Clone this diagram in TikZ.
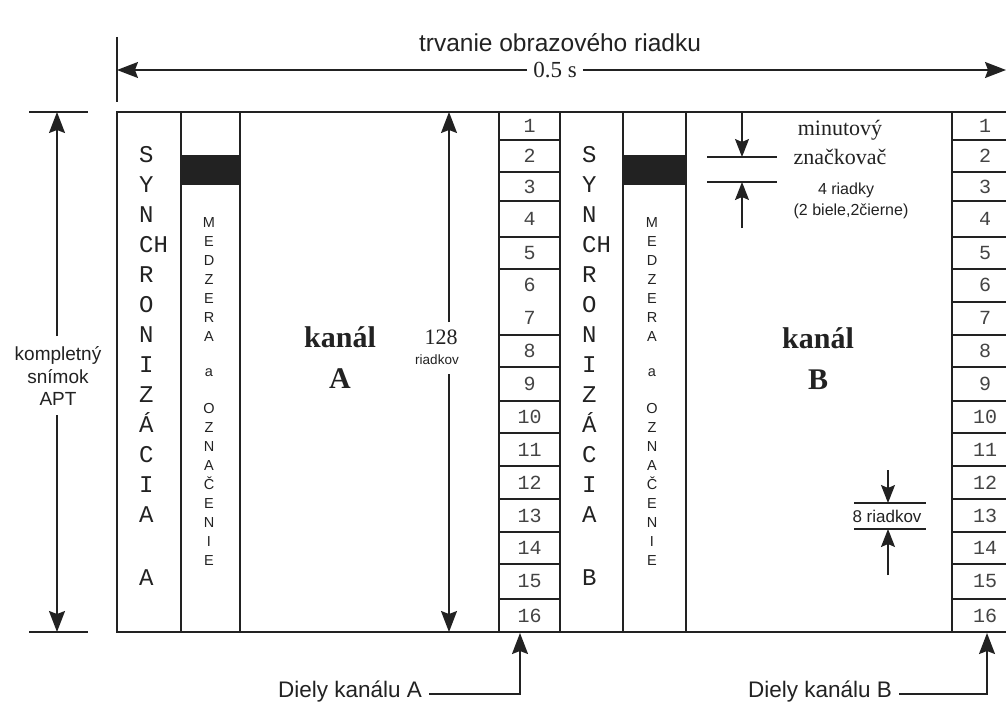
\documentclass[tikz,border=0pt]{standalone}
\usepackage{fontspec}
\setmainfont{Liberation Serif}
\setsansfont{Liberation Sans}
\setmonofont{Liberation Mono}
\usetikzlibrary{arrows.meta}
\definecolor{ink}{HTML}{222222}
\definecolor{numgray}{HTML}{444444}
\begin{document}
\begin{tikzpicture}[x=1pt,y=-1pt,
  frame/.style={line width=1.5pt, draw=ink},
  thin/.style={line width=1.3pt, draw=ink},
  arr/.style={line width=1.5pt, draw=ink, -{Stealth[length=21pt,width=16pt,inset=3pt]}},
  sarr/.style={line width=1.4pt, draw=ink, -{Stealth[length=18pt,width=14pt,inset=3pt]}},
  synclet/.style={font=\fontsize{24}{24}\ttfamily, text=ink, anchor=base west, inner sep=0pt},
  medlet/.style={font=\fontsize{14.5}{14.5}\sffamily, text=ink, anchor=base, inner sep=0pt},
  numlab/.style={font=\fontsize{20}{20}\ttfamily, text=numgray, inner sep=0pt},
  kanal/.style={font=\fontsize{30}{30}\bfseries, text=ink, anchor=base, inner sep=0pt},
  sanslab/.style={font=\fontsize{#1}{#1}\sffamily, text=ink, inner sep=0pt},
  seriflab/.style={font=\fontsize{#1}{#1}\rmfamily, text=ink, inner sep=0pt}
]
\useasboundingbox (0,0) rectangle (1006,709);
\fill[white] (0,0) rectangle (1006,709);

% main frame and columns
\draw[frame] (117,112) rectangle (1013,632);
\foreach \x in {181,240,499,560,623,686,952}
  \draw[frame] (\x,112) -- (\x,632);

% cell lines
\foreach \y in {140,172,201,237,269,335,367,401,433,466,499,532,564,599}
  \draw[thin] (499,\y) -- (560,\y);
\foreach \y in {140,172,201,237,269,302,335,367,401,433,466,499,532,564,599}
  \draw[thin] (952,\y) -- (1013,\y);

% numbers
\foreach \n/\y in {1/126,2/156,3/186.5,4/219,5/253,6/285,7/318,8/351,9/384,10/417,11/449.5,12/482.5,13/515.5,14/548,15/581.5,16/615.5}{
  \node[numlab] (nA\n) at (529.5,\y) {\n};
  \node[numlab] (nB\n) at (985,\y) {\n};
}

% black marker bars
\fill[ink] (181,155) rectangle (240,185);
\fill[ink] (623,155) rectangle (686,185);

% synchronizacia letters
\foreach \l [count=\i from 0] in {S,Y,N,CH,R,O,N,I,Z,Á,C,I,A}{
  \pgfmathsetmacro\yy{162+30*\i}
  \node[synclet] (sa\i) at (139,\yy) {\l};
  \node[synclet] (sb\i) at (582,\yy) {\l};
}
\node[synclet] (saEnd) at (139,585) {A};
\node[synclet] (sbEnd) at (582,585) {B};

% medzera a oznacenie letters
\foreach \l [count=\i from 0] in {M,E,D,Z,E,R,A}{
  \pgfmathsetmacro\yy{227+19*\i}
  \node[medlet] (ma\i) at (209,\yy) {\l};
  \node[medlet] (mb\i) at (652,\yy) {\l};
}
\node[medlet] (maA) at (209,376) {a};
\node[medlet] (mbA) at (652,376) {a};
\foreach \l [count=\i from 0] in {O,Z,N,A,Č,E,N,I,E}{
  \pgfmathsetmacro\yy{413+19*\i}
  \node[medlet] (mc\i) at (209,\yy) {\l};
  \node[medlet] (md\i) at (652,\yy) {\l};
}

% kanal A / B
\node[kanal] (kA1) at (340,347) {kanál};
\node[kanal] (kA2) at (340,388) {A};
\node[kanal] (kB1) at (818,348) {kanál};
\node[kanal] (kB2) at (818,389) {B};

% 128 riadkov
\node[seriflab=22, anchor=base] (r128) at (441,344) {128};
\node[sanslab=13.5, anchor=base] (r128b) at (437,364) {riadkov};
\coordinate (c128top) at (449,112);
\coordinate (c128bot) at (449,632);
\coordinate (c128a) at (449,322);
\coordinate (c128b) at (449,374);
\draw[arr] (c128a) -- (c128top);
\draw[arr] (c128b) -- (c128bot);

% top dimension
\coordinate (tickT) at (117,37);
\coordinate (tickB) at (117,102);
\draw[thin] (tickT) -- (tickB);
\node[sanslab=24.5] (trv) at (560,43) {trvanie obrazového riadku};
\node[seriflab=23, inner xsep=6pt] (half) at (555,70) {0.5 s};
\coordinate (tL) at (117,70);
\coordinate (tR) at (1006,70);
\draw[arr] (half.west) -- (tL);
\draw[arr] (half.east) -- (tR);

% left dimension
\coordinate (lT1) at (29,112);
\coordinate (lT2) at (88,112);
\coordinate (lB1) at (29,632);
\coordinate (lB2) at (88,632);
\draw[thin] (lT1) -- (lT2);
\draw[thin] (lB1) -- (lB2);
\node[sanslab=19] (komp1) at (58,355) {kompletný};
\node[sanslab=19] (komp2) at (58,377) {snímok};
\node[sanslab=19] (komp3) at (58,399) {APT};
\coordinate (lTop) at (57,112);
\coordinate (lBot) at (57,632);
\coordinate (lTa) at (57,336);
\coordinate (lBa) at (57,415);
\draw[arr] (lTa) -- (lTop);
\draw[arr] (lBa) -- (lBot);

% minute marker
\coordinate (mmTop) at (742,112);
\coordinate (mm1) at (742,157);
\coordinate (mm2) at (742,182);
\coordinate (mmBot) at (742,228);
\draw[thin] (707,157) -- (777,157);
\draw[thin] (707,182) -- (777,182);
\draw[sarr] (mmTop) -- (mm1);
\draw[sarr] (mmBot) -- (mm2);
\node[seriflab=22] (minu) at (840,130) {minutový};
\node[seriflab=22] (znac) at (840,157) {značkovač};
\node[sanslab=16] (riad4) at (846,190) {4 riadky};
\node[sanslab=16] (biele) at (851,211) {(2 biele,2čierne)};

% 8 riadkov
\coordinate (r8Top) at (888,470);
\coordinate (r8a) at (888,503);
\coordinate (r8b) at (888,529);
\coordinate (r8Bot) at (888,575);
\draw[thin] (854,503) -- (926,503);
\draw[thin] (854,529) -- (926,529);
\draw[sarr] (r8Top) -- (r8a);
\draw[sarr] (r8Bot) -- (r8b);
\node[sanslab=17] (r8) at (887,516) {8 riadkov};

% bottom labels
\node[sanslab=22.5] (dA) at (350,692) {Diely kanálu A};
\node[sanslab=22.5] (dB) at (820,692) {Diely kanálu B};
\coordinate (tA) at (520,633);
\coordinate (tB) at (987,633);
\draw[arr] ([xshift=7pt,yshift=-2pt]dA.east) -| (tA);
\draw[arr] ([xshift=7pt,yshift=-2pt]dB.east) -| (tB);
\end{tikzpicture}
\end{document}
